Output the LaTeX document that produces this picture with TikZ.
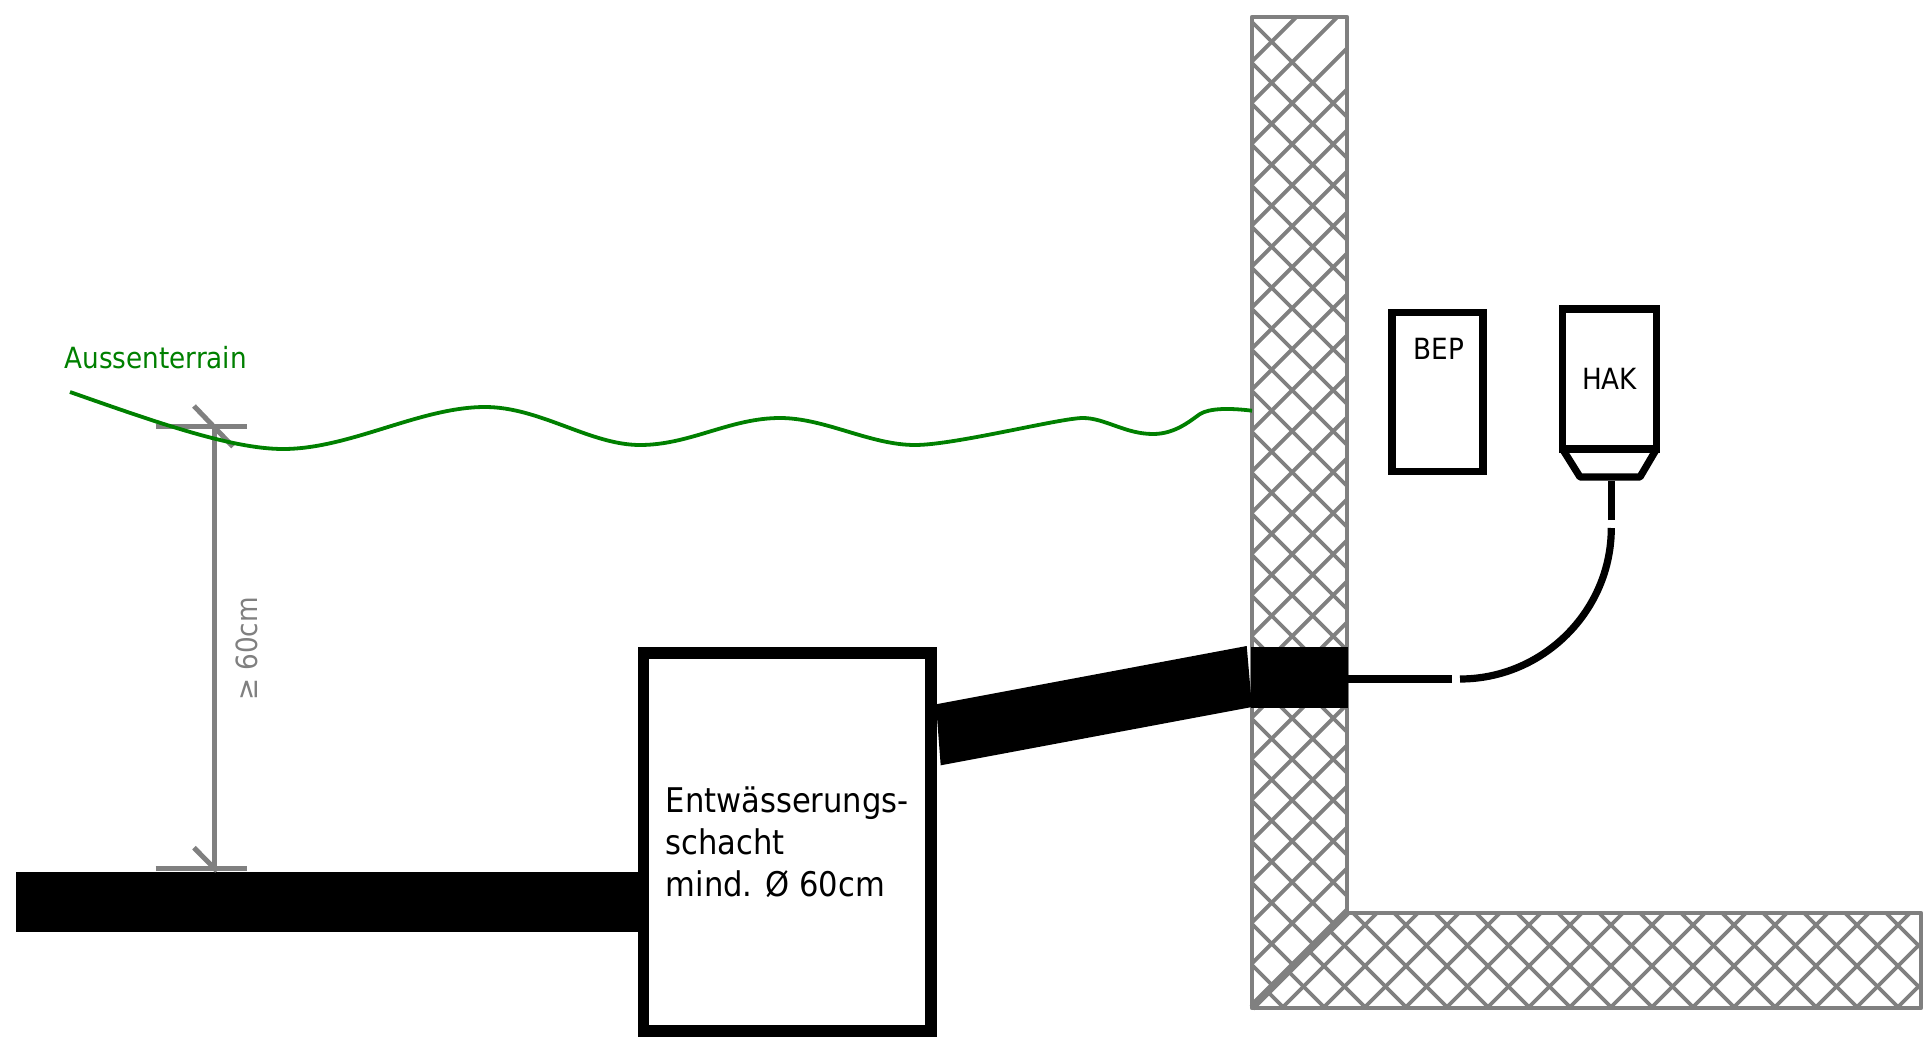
\documentclass[tikz,border=0pt]{standalone}
\usepackage{fontspec}
\setmainfont{DejaVu Sans}[FakeStretch=0.9]
\usetikzlibrary{
    calc,
    positioning
}
\definecolor{wandgrau}{HTML}{808080}
\definecolor{terraingruen}{HTML}{008000}
\tikzset{kasten/.style={inner sep=0pt, outer sep=0pt, rectangle, draw=black, line width=3.6pt, font=\fontsize{14.6}{14.6}\selectfont}}
\tikzset{kabel/.style={draw=black, line width=3.6pt}}
\tikzset{wand/.style={draw=wandgrau, line width=2.2pt, line join=round}}
\tikzset{raster/.style={draw=wandgrau, line width=1.9pt}}
\tikzset{mass/.style={draw=wandgrau, line width=2.5pt}}

\begin{document}
\begin{tikzpicture}[x=0.5pt, y=-0.5pt]
                        \useasboundingbox (0, 0) rectangle (1923, 1044);

                        % mauer
                        \begin{scope}
                            \clip (1252, 17) -- (1347, 17) -- (1347, 913) -- (1252, 1008) -- cycle;
                            \foreach \k in {0, ..., 30} {
                                \draw[raster] ({1230 - 41 * \k}, 0) -- ++(1100, 1100);
                                \draw[raster] ({1313.4 + 41 * \k}, 0) -- ++(-1100, 1100);
                            }
                        \end{scope}
                        \begin{scope}
                            \clip (1252, 1008) -- (1347, 913) -- (1921, 913) -- (1921, 1008) -- cycle;
                            \foreach \k in {-5, ..., 16} {
                                \draw[raster] ({1265 + 41 * \k}, 825) -- ++(300, 300);
                                \draw[raster] ({1465 + 41 * \k}, 825) -- ++(-300, 300);
                            }
                        \end{scope}
                        \draw[wand] (1347, 913) -- (1347, 17) -- (1252, 17) -- (1252, 1008) -- (1921, 1008) -- (1921, 913) -- cycle;
                        \draw[wand, line width=3.3pt] (1347, 913) -- (1252, 1008);

                        % rohre
                        \coordinate (rohrlinks) at (16, 902.3);
                        \coordinate (rohrende) at (640, 902.3);
                        \draw[draw=black, line width=30pt] (rohrlinks) -- (rohrende);
                        \node[kasten, minimum width=143.75pt, minimum height=189pt, align=left, line width=5.75pt, font=\fontsize{17}{20.85}\selectfont] (schacht) at (787.25, 842) {Entwässerungs-\\schacht\\mind. Ø 60cm};
                        \node[fill=black, inner sep=0pt, minimum width=48.5pt, minimum height=30.2pt] (block) at (1299.5, 677.5) {};
                        \coordinate (rohrA) at (936, 704.3);
                        \coordinate (rohrB) at (1246.7, 646);
                        \coordinate (rohrC) at (1252, 707);
                        \coordinate (rohrD) at (940.7, 765.3);
                        \fill[black] (rohrA) -- (rohrB) -- (rohrC) -- (rohrD) -- cycle;

                        % kaesten
                        \node[kasten, minimum width=45.5pt, minimum height=79.4pt] (bep) at (1437.5, 392) {};
                        \node[font=\fontsize{14.6}{14.6}\selectfont, inner sep=0pt] (beptext) at (1439, 349) {BEP};
                        \node[kasten, minimum width=47pt, minimum height=70pt] (hak) at (1609.5, 379) {HAK};
                        \draw[kabel, line join=round] (hak.south west) -- (1580, 477) -- (1640, 477) -- (hak.south east);

                        % kabel
                        \coordinate (kabelA) at (1452, 679);
                        \coordinate (kabelB) at (1460, 679);
                        \coordinate (kabelC) at (1611.3, 528);
                        \coordinate (kabelD) at (1611.3, 520);
                        \coordinate (kabelE) at (1611.3, 481);
                        \draw[kabel] (block.east |- kabelA) -- (kabelA);
                        \draw[kabel] (kabelB) .. controls (1543, 679) and (1611.3, 611) .. (kabelC);
                        \draw[kabel] (kabelD) -- (kabelE);

                        % masslinie
                        \draw[mass] (155.7, 426) -- (246.7, 426);
                        \draw[mass] (155.7, 868) -- (246.7, 868);
                        \draw[mass] (214.7, 426) -- (214.7, 868);
                        \draw[mass] (194, 406) -- (233, 446.7);
                        \draw[mass] (194, 847.7) -- (217, 871);
                        \node[rotate=90, text=wandgrau, font=\fontsize{14.6}{14.6}\selectfont, inner sep=0pt] (masstext) at (247, 649) {≥ 60cm};

                        % terrain
                        \draw[draw=terraingruen, line width=1.9pt] (70, 392)
                        .. controls (150, 420) and (230, 449) .. (283, 449)
                        .. controls (350, 449) and (420, 407) .. (485, 407)
                        .. controls (540, 407) and (590, 445) .. (640, 445)
                        .. controls (690, 445) and (730, 418) .. (780, 418)
                        .. controls (825, 418) and (870, 445) .. (915, 445)
                        .. controls (955, 445) and (1060, 418) .. (1083, 418)
                        .. controls (1105, 418) and (1125, 434) .. (1153, 434)
                        .. controls (1175, 434) and (1190, 421) .. (1200, 414)
                        .. controls (1210, 408) and (1230, 408) .. (1252, 410.7);
                        \node[text=terraingruen, font=\fontsize{14.6}{14.6}\selectfont, inner sep=0pt, anchor=base west] (terrain) at (64, 368) {Aussenterrain};
                    \end{tikzpicture}
\end{document}
